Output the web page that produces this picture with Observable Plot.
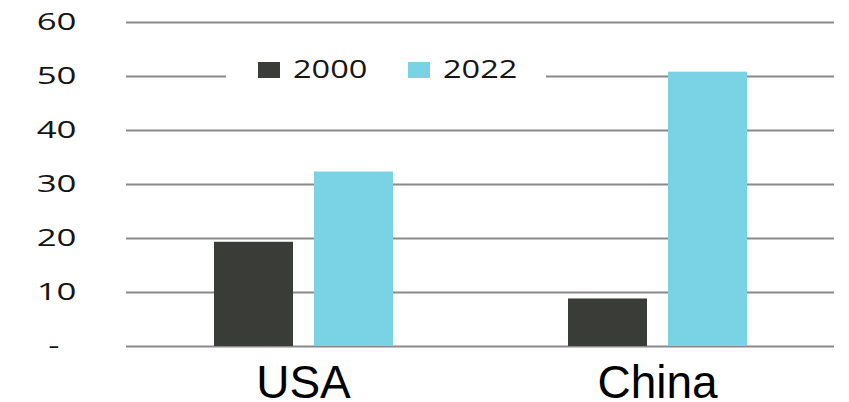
<!DOCTYPE html>
<html><head><meta charset="utf-8">
<script src="https://cdn.jsdelivr.net/npm/d3@7"></script>
<script src="https://cdn.jsdelivr.net/npm/@observablehq/plot@0.6"></script>
<style>
body{margin:0;background:#fff}
#wrap{position:relative;width:849px;height:402px;overflow:hidden}
#legend{position:absolute;left:226px;top:56px;width:320px;height:28px;background:#fff}
.sw{position:absolute;top:6px;width:22px;height:16px}
.lt{position:absolute;top:-6px;font-family:"Open Sans";font-size:26px;color:#151515;transform:scaleX(1.25);transform-origin:left center;white-space:nowrap}
</style>
</head><body><div id="wrap"></div>
<script>
const countries = ["USA", "China"];
const years = ["2000", "2022"];
const values2000 = [19.3, 8.8];
const values2022 = [32.3, 50.8];
const yTicks = [0, 10, 20, 30, 40, 50, 60];
const colors = ["#3a3c38", "#79d3e5"];

const data = countries.flatMap((c, i) => [
  {country: c, year: years[0], value: values2000[i]},
  {country: c, year: years[1], value: values2022[i]}
]);

const chart = Plot.plot({
  width: 849, height: 402,
  marginTop: 22, marginBottom: 56, marginLeft: 125, marginRight: 15,
  style: {background: "#fff"},
  fx: {domain: countries, padding: 0, label: null},
  x: {domain: years, paddingInner: 0.215, paddingOuter: 0.874, axis: null},
  y: {domain: [0, 60], axis: null},
  color: {domain: years, range: colors},
  marks: [
    Plot.ruleY(yTicks, {stroke: "#8a8a8a", strokeWidth: 2}),
    Plot.barY(data, {fx: "country", x: "year", y: "value", fill: "year", inset: 0}),
    Plot.axisY(yTicks.filter(d => d > 0), {tickSize: 0, tickPadding: 50, fontSize: 24, fontFamily: "Open Sans", fill: "#151515", label: null}),
    Plot.axisY([0], {tickSize: 0, tickPadding: 67, tickFormat: () => "-", fontSize: 24, fontFamily: "Open Sans", fill: "#151515", label: null}),
    Plot.axisFx({anchor: "bottom", tickSize: 0, tickPadding: 19, fontSize: 46, fontFamily: "Liberation Sans, Arial", fill: "#000", label: null})
  ]
});
const wrap = document.getElementById("wrap");
wrap.appendChild(chart);

// widen y tick labels like the reference
chart.querySelectorAll('[aria-label="y-axis tick label"] text').forEach(t => {
  const w = t.getComputedTextLength();
  t.setAttribute("textLength", w * 1.45);
  t.setAttribute("lengthAdjust", "spacingAndGlyphs");
});

// legend
const legend = document.createElement("div");
legend.id = "legend";
const items = [[32, 67], [182, 217]];
years.forEach((y, i) => {
  const sw = document.createElement("div");
  sw.className = "sw";
  sw.style.left = items[i][0] + "px";
  sw.style.background = colors[i];
  legend.appendChild(sw);
  const lt = document.createElement("span");
  lt.className = "lt";
  lt.style.left = items[i][1] + "px";
  lt.textContent = y;
  legend.appendChild(lt);
});
wrap.appendChild(legend);
</script>
</body></html>
